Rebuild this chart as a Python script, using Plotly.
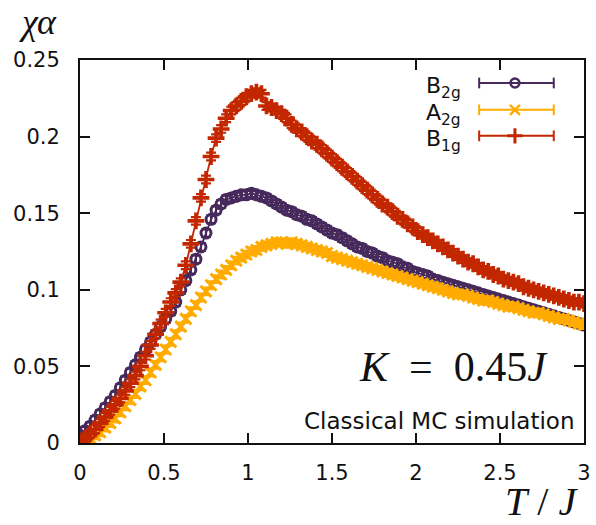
import plotly.graph_objects as go

# Temperature grid T/J
T = [0.00, 0.03, 0.06, 0.09, 0.12, 0.15, 0.18, 0.21, 0.24, 0.27,
     0.30, 0.33, 0.36, 0.39, 0.42, 0.45, 0.48, 0.51, 0.54, 0.57,
     0.60, 0.63, 0.66, 0.69, 0.72, 0.75, 0.78, 0.81, 0.84, 0.87,
     0.90, 0.93, 0.96, 0.99, 1.02, 1.05, 1.08, 1.11, 1.14, 1.17,
     1.20, 1.23, 1.26, 1.29, 1.32, 1.35, 1.38, 1.41, 1.44, 1.47,
     1.50, 1.53, 1.56, 1.59, 1.62, 1.65, 1.68, 1.71, 1.74, 1.77,
     1.80, 1.83, 1.86, 1.89, 1.92, 1.95, 1.98, 2.01, 2.04, 2.07,
     2.10, 2.13, 2.16, 2.19, 2.22, 2.25, 2.28, 2.31, 2.34, 2.37,
     2.40, 2.43, 2.46, 2.49, 2.52, 2.55, 2.58, 2.61, 2.64, 2.67,
     2.70, 2.73, 2.76, 2.79, 2.82, 2.85, 2.88, 2.91, 2.94, 2.97,
     3.00]

# Susceptibility chi_alpha for each channel
chi_B2g = [0.005, 0.008, 0.011, 0.015, 0.019, 0.023, 0.027, 0.031, 0.036, 0.041,
           0.046, 0.051, 0.056, 0.061, 0.066, 0.071, 0.076, 0.081, 0.086, 0.092,
           0.100, 0.106, 0.113, 0.120, 0.128, 0.137, 0.146, 0.152, 0.156, 0.159,
           0.160, 0.161, 0.162, 0.162, 0.163, 0.162, 0.161, 0.160, 0.158, 0.156,
           0.154, 0.152, 0.151, 0.149, 0.148, 0.146, 0.145, 0.143, 0.141, 0.139,
           0.137, 0.136, 0.134, 0.132, 0.130, 0.128, 0.127, 0.125, 0.124, 0.122,
           0.121, 0.119, 0.118, 0.117, 0.115, 0.114, 0.112, 0.111, 0.110, 0.109,
           0.107, 0.106, 0.105, 0.104, 0.103, 0.102, 0.101, 0.100, 0.099, 0.098,
           0.097, 0.096, 0.095, 0.094, 0.093, 0.092, 0.091, 0.090, 0.089, 0.088,
           0.087, 0.086, 0.085, 0.084, 0.083, 0.082, 0.081, 0.080, 0.079, 0.078,
           0.077]

chi_A2g = [0.000, 0.001, 0.003, 0.005, 0.007, 0.010, 0.013, 0.016, 0.020, 0.024,
           0.028, 0.032, 0.037, 0.041, 0.046, 0.051, 0.056, 0.061, 0.066, 0.071,
           0.076, 0.081, 0.086, 0.090, 0.095, 0.099, 0.103, 0.107, 0.110, 0.113,
           0.116, 0.119, 0.121, 0.123, 0.125, 0.126, 0.128, 0.129, 0.130, 0.131,
           0.131, 0.130, 0.131, 0.130, 0.129, 0.128, 0.127, 0.126, 0.125, 0.124,
           0.122, 0.121, 0.120, 0.119, 0.118, 0.117, 0.116, 0.115, 0.114, 0.113,
           0.112, 0.111, 0.110, 0.109, 0.108, 0.107, 0.106, 0.105, 0.104, 0.103,
           0.102, 0.101, 0.100, 0.099, 0.098, 0.097, 0.097, 0.096, 0.095, 0.094,
           0.093, 0.093, 0.092, 0.091, 0.090, 0.089, 0.089, 0.088, 0.087, 0.086,
           0.085, 0.085, 0.084, 0.083, 0.082, 0.081, 0.081, 0.080, 0.079, 0.078,
           0.077]

chi_B1g = [0.001, 0.003, 0.006, 0.009, 0.013, 0.017, 0.021, 0.025, 0.029, 0.034,
           0.039, 0.044, 0.050, 0.057, 0.064, 0.071, 0.078, 0.085, 0.092, 0.098,
           0.105, 0.116, 0.130, 0.145, 0.160, 0.172, 0.187, 0.199, 0.205, 0.212,
           0.217, 0.220, 0.223, 0.226, 0.228, 0.229, 0.228, 0.220, 0.219, 0.217,
           0.215, 0.212, 0.208, 0.205, 0.203, 0.200, 0.197, 0.195, 0.192, 0.189,
           0.186, 0.183, 0.180, 0.177, 0.174, 0.171, 0.168, 0.165, 0.162, 0.159,
           0.156, 0.154, 0.151, 0.148, 0.146, 0.143, 0.141, 0.138, 0.136, 0.134,
           0.132, 0.130, 0.128, 0.126, 0.124, 0.122, 0.120, 0.118, 0.117, 0.115,
           0.113, 0.112, 0.110, 0.109, 0.107, 0.106, 0.105, 0.104, 0.102, 0.101,
           0.100, 0.099, 0.098, 0.097, 0.096, 0.095, 0.094, 0.093, 0.092, 0.092,
           0.091]

ERR = 0.0025  # statistical error bar half-height

x_ticks = [0, 0.5, 1, 1.5, 2, 2.5, 3]
x_tick_text = ["0", "0.5", "1", "1.5", "2", "2.5", "3"]
y_ticks = [0, 0.05, 0.1, 0.15, 0.2, 0.25]
y_tick_text = ["0", "0.05", "0.1", "0.15", "0.2", "0.25"]

# name, values, colour, symbol, size, symbol stroke width
series = [
    ("B<sub>2g</sub>", chi_B2g, "#472a5c", "circle-open", 10, 3.0),
    ("A<sub>2g</sub>", chi_A2g, "#ffab00", "x-thin-open", 11, 3.0),
    ("B<sub>1g</sub>", chi_B1g, "#c22700", "cross-thin-open", 12, 3.6),
]

fig = go.Figure()

for name, vals, color, symbol, size, mw in series:
    fig.add_trace(go.Scatter(
        x=T, y=vals, mode="lines+markers", name=name,
        line=dict(color=color, width=1.8),
        marker=dict(symbol=symbol, size=size, color=color,
                    line=dict(color=color, width=mw)),
        error_y=dict(type="constant", value=ERR, color=color,
                     thickness=2.2, width=5),
        showlegend=False,
    ))

# Key: label, error-bar sample and point symbol, on an overlay unit axis
key_rows = [0.940, 0.870, 0.802]
key_x0, key_x1, key_xm = 0.792, 0.940, 0.863
sans = "DejaVu Sans"
serif = "Liberation Serif"
annotations = []
shapes = []
for (name, vals, color, symbol, size, mw), yk in zip(series, key_rows):
    shapes.append(dict(type="line", xref="paper", yref="paper",
                       x0=key_x0, x1=key_x1, y0=yk, y1=yk,
                       line=dict(color=color, width=2)))
    for xc in (key_x0, key_x1):
        shapes.append(dict(type="line", xref="paper", yref="paper",
                           x0=xc, x1=xc, y0=yk - 0.014, y1=yk + 0.014,
                           line=dict(color=color, width=2)))
    fig.add_trace(go.Scatter(
        x=[key_xm], y=[yk], xaxis="x2", yaxis="y2", mode="markers",
        marker=dict(symbol=symbol, size=size - 1, color=color,
                    line=dict(color=color, width=mw - 0.6)),
        showlegend=False, hoverinfo="skip"))
    annotations.append(dict(xref="paper", yref="paper", x=0.760, y=yk,
                            xanchor="right", yanchor="middle", yshift=-5,
                            text=name, showarrow=False,
                            font=dict(family=sans, size=22, color="#111")))

annotations += [
    dict(xref="paper", yref="paper", x=0.9325, y=0.198, xanchor="right",
         yanchor="middle", text="<i>K</i>\u2002=\u20020.45<i>J</i>",
         showarrow=False, font=dict(family=serif, size=42, color="#111")),
    dict(xref="paper", yref="paper", x=0.984, y=0.058, xanchor="right",
         yanchor="middle", text="Classical MC simulation", showarrow=False,
         font=dict(family=sans, size=23, color="#111")),
    dict(xref="paper", yref="paper", x=0.992, y=-0.154, xanchor="right",
         yanchor="middle", text="<i>T</i> / <i>J</i>", showarrow=False,
         font=dict(family=serif, size=40, color="#111")),
    dict(xref="paper", yref="paper", x=-0.125, y=1.099, xanchor="left",
         yanchor="middle", text="<i>χα</i>", showarrow=False,
         font=dict(family=serif, size=36, color="#111")),
]

axis_common = dict(
    showgrid=False, zeroline=False, showline=True, linecolor="#111",
    linewidth=2, mirror="ticks", ticks="inside", ticklen=10, tickwidth=1.6,
    tickcolor="#111", tickfont=dict(family=sans, size=21, color="#111"),
    automargin=False,
)

fig.update_layout(
    width=596, height=525,
    margin=dict(l=80, r=12, t=60, b=82),
    paper_bgcolor="white", plot_bgcolor="white",
    xaxis=dict(range=[0, 3], tickvals=x_ticks, ticktext=x_tick_text,
               ticklabelstandoff=10, **axis_common),
    yaxis=dict(range=[0, 0.25], tickvals=y_ticks, ticktext=y_tick_text,
               ticklabelstandoff=14, **axis_common),
    xaxis2=dict(range=[0, 1], overlaying="x", visible=False),
    yaxis2=dict(range=[0, 1], overlaying="y", visible=False),
    shapes=shapes, annotations=annotations,
)

fig.write_html("out.html")
